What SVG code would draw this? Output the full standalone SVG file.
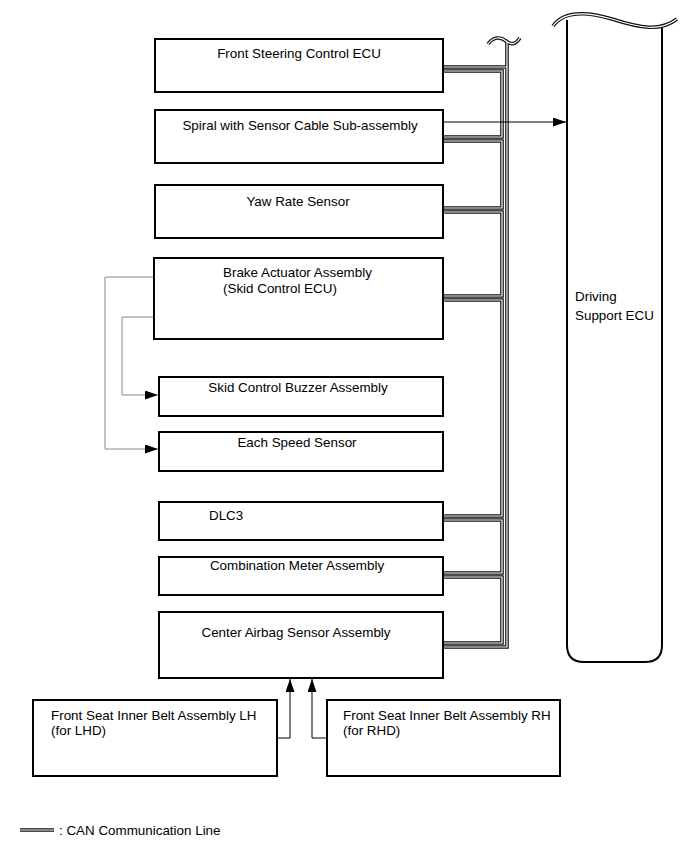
<svg xmlns="http://www.w3.org/2000/svg" xmlns:xlink="http://www.w3.org/1999/xlink" width="691" height="855" viewBox="0 0 691 855">
<style>
.box{fill:#fff;stroke:#000;stroke-width:2}
.t{font-family:"Liberation Sans",Arial,sans-serif;font-size:13.4px;fill:#000}
.m{text-anchor:middle}
.cb{fill:none;stroke:#111;stroke-width:3.6}
.cw{fill:none;stroke:#fff;stroke-width:1.2}
.thin{fill:none;stroke:#000;stroke-width:1}
.gray{fill:none;stroke:#888;stroke-width:1}
</style>
<defs>
<marker id="arr" markerUnits="userSpaceOnUse" markerWidth="13" markerHeight="9" refX="13" refY="4.5" orient="auto">
<path d="M0,0 L13,4.5 L0,9 z" fill="#000"/>
</marker>
<path id="c0" d="M443,647 H507 V42"/>
<path id="c1" d="M443,67 H507"/>
<path id="c2" d="M443,71 H502 V137 H443"/>
<path id="c3" d="M443,141 H502 V208 H443"/>
<path id="c4" d="M443,212 H502 V296 H443"/>
<path id="c5" d="M443,300 H502 V516 H443"/>
<path id="c6" d="M443,520 H502 V573 H443"/>
<path id="c7" d="M443,577 H502 V643 H443"/>
<path id="w1" d="M488,44 C494,36 501,37 506,41 C511,45 515,45 520,38"/>
<path id="w2" d="M553,26 C563,12 585,11 612,19 C640,28 660,32 677,19"/>
<path id="lg" d="M20,830 H54"/>
</defs>

<g id="driving-support-ecu">
<path d="M567,20 V645 Q567,662 584,662 H645 Q662,662 662,645 V28" fill="#fff" stroke="#000" stroke-width="2"/>
<use xlink:href="#w2" class="cb"/>
<use xlink:href="#w2" class="cw"/>
<text class="t" x="575" y="301">Driving</text>
<text class="t" x="575" y="320">Support ECU</text>
</g>

<g id="connectors">
<g class="cb">
<use xlink:href="#c0"/><use xlink:href="#c1"/><use xlink:href="#c2"/><use xlink:href="#c3"/>
<use xlink:href="#c4"/><use xlink:href="#c5"/><use xlink:href="#c6"/><use xlink:href="#c7"/>
<use xlink:href="#w1"/>
</g>
<g class="cw">
<use xlink:href="#c0"/><use xlink:href="#c1"/><use xlink:href="#c2"/><use xlink:href="#c3"/>
<use xlink:href="#c4"/><use xlink:href="#c5"/><use xlink:href="#c6"/><use xlink:href="#c7"/>
<use xlink:href="#w1"/>
</g>
<path class="thin" d="M443,122 H566" marker-end="url(#arr)"/>
<path class="gray" d="M154,277 H105 V449 H158" marker-end="url(#arr)"/>
<path class="gray" d="M154,317 H122 V395 H158" marker-end="url(#arr)"/>
<path class="thin" d="M277,738 H290 V679" marker-end="url(#arr)"/>
<path class="thin" d="M327,738 H312 V679" marker-end="url(#arr)"/>
</g>

<g id="front-steering-control-ecu">
<rect class="box" x="155" y="39" width="288" height="53"/>
<text class="t m" x="299" y="58">Front Steering Control ECU</text>
</g>
<g id="spiral-with-sensor-cable">
<rect class="box" x="155" y="110" width="288" height="53"/>
<text class="t m" x="300" y="130">Spiral with Sensor Cable Sub-assembly</text>
</g>
<g id="yaw-rate-sensor">
<rect class="box" x="155" y="185" width="288" height="53"/>
<text class="t m" x="298" y="206">Yaw Rate Sensor</text>
</g>
<g id="brake-actuator-assembly">
<rect class="box" x="154" y="258" width="289" height="81"/>
<text class="t" x="223" y="277">Brake Actuator Assembly</text>
<text class="t" x="223" y="293">(Skid Control ECU)</text>
</g>
<g id="skid-control-buzzer">
<rect class="box" x="159" y="377" width="284" height="39"/>
<text class="t m" x="298" y="392">Skid Control Buzzer Assembly</text>
</g>
<g id="each-speed-sensor">
<rect class="box" x="159" y="432" width="284" height="39"/>
<text class="t m" x="297" y="447">Each Speed Sensor</text>
</g>
<g id="dlc3">
<rect class="box" x="159" y="502" width="284" height="38"/>
<text class="t" x="209" y="520">DLC3</text>
</g>
<g id="combination-meter">
<rect class="box" x="159" y="557" width="284" height="38"/>
<text class="t m" x="297" y="570">Combination Meter Assembly</text>
</g>
<g id="center-airbag-sensor">
<rect class="box" x="159" y="612" width="284" height="66"/>
<text class="t m" x="296" y="637">Center Airbag Sensor Assembly</text>
</g>
<g id="seat-belt-lh">
<rect class="box" x="33" y="700" width="244" height="76"/>
<text class="t" x="51" y="720">Front Seat Inner Belt Assembly LH</text>
<text class="t" x="51" y="735">(for LHD)</text>
</g>
<g id="seat-belt-rh">
<rect class="box" x="327" y="700" width="233" height="76"/>
<text class="t" x="343" y="720">Front Seat Inner Belt Assembly RH</text>
<text class="t" x="343" y="735">(for RHD)</text>
</g>

<g id="legend">
<use xlink:href="#lg" class="cb"/>
<use xlink:href="#lg" class="cw"/>
<text class="t" x="59" y="835">: CAN Communication Line</text>
</g>
</svg>
